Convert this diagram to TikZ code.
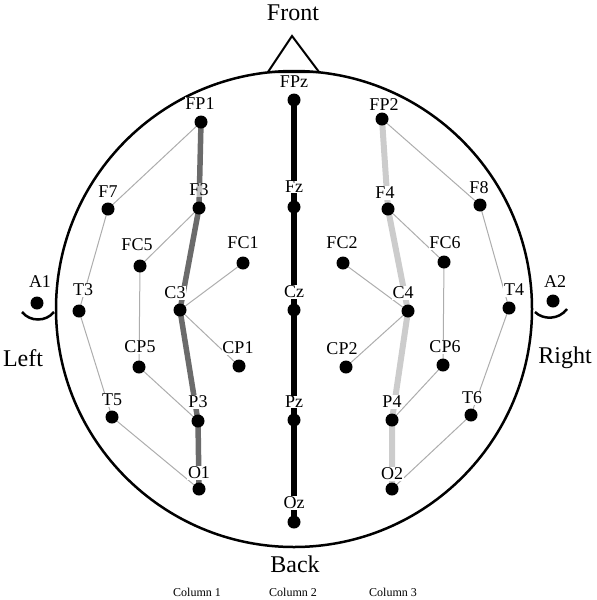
\documentclass[tikz,border=0pt]{standalone}
\usepackage{fontspec}
\setmainfont{Liberation Serif}
\begin{document}
\begin{tikzpicture}[x=1pt,y=-1pt,
  dot/.style={circle,fill=black,minimum size=13pt,inner sep=0pt},
  lab/.style={fill=white,inner sep=0.6pt,font=\fontsize{18}{18}\selectfont},
  big/.style={font=\fontsize{24}{24}\selectfont,inner sep=0pt},
  colt/.style={font=\fontsize{12}{12}\selectfont,inner sep=0pt},
  thin/.style={draw=black!32,line width=1pt},
  colA/.style={draw=black!58,line width=5.5pt},
  colB/.style={draw=black,line width=6.5pt},
  colC/.style={draw=black!20,line width=6pt},
  outline/.style={draw=black,line width=2.5pt}]
\useasboundingbox (0,0) rectangle (597,600);
% head
\draw[outline] (294,309) circle[radius=238];
\draw[draw=black,line width=2pt,line join=miter] (268,72) -- (292,36) -- (319,72) -- cycle;
\draw[outline] (22,312) .. controls (30,322) and (46,322) .. (54,312);
\draw[outline] (535,312) .. controls (543,320) and (559,320) .. (567,309);
% coordinates
\coordinate (FPz) at (294,100); \coordinate (Fz) at (294,207); \coordinate (Cz) at (294,310);
\coordinate (Pz) at (294,420); \coordinate (Oz) at (294,522);
\coordinate (FP1) at (201,122); \coordinate (F3) at (199,208); \coordinate (C3) at (180,310);
\coordinate (P3) at (198,421); \coordinate (O1) at (199,489);
\coordinate (F7) at (108,209); \coordinate (FC5) at (140,266); \coordinate (T3) at (79,311);
\coordinate (CP5) at (139,367); \coordinate (T5) at (112,417); \coordinate (FC1) at (243,263);
\coordinate (CP1) at (239,366);
\coordinate (FP2) at (382,119); \coordinate (F4) at (388,209); \coordinate (C4) at (408,311);
\coordinate (P4) at (392,420); \coordinate (O2) at (392,489);
\coordinate (F8) at (480,205); \coordinate (FC6) at (444,262); \coordinate (T4) at (509,308);
\coordinate (CP6) at (443,365); \coordinate (T6) at (471,415); \coordinate (FC2) at (343,263);
\coordinate (CP2) at (346,367);
\coordinate (A1) at (37,303); \coordinate (A2) at (553,301);
% thin connections
\draw[thin] (FP1) -- (F7) -- (T3) -- (T5) -- (O1);
\draw[thin] (F3) -- (FC5) -- (CP5) -- (P3);
\draw[thin] (FC1) -- (C3) -- (CP1);
\draw[thin] (FP2) -- (F8) -- (T4) -- (T6) -- (O2);
\draw[thin] (F4) -- (FC6) -- (CP6) -- (P4);
\draw[thin] (FC2) -- (C4) -- (CP2);
% thick columns
\draw[colA] (FP1) -- (F3) -- (C3) -- (P3) -- (O1);
\draw[colB] (FPz) -- (Oz);
\draw[colC] (FP2) -- (F4) -- (C4) -- (P4) -- (O2);
% dots
\foreach \n in {FPz,Fz,Cz,Pz,Oz,FP1,F3,C3,P3,O1,F7,FC5,T3,CP5,T5,FC1,CP1,FP2,F4,C4,P4,O2,F8,FC6,T4,CP6,T6,FC2,CP2,A1,A2}
  \node[dot] (\n d) at (\n) {};
% labels
\node[lab] (FPzl) at (294,82) {FPz};
\node[lab] (Fzl) at (294,187) {Fz};
\node[lab] (Czl) at (294,292) {Cz};
\node[lab] (Pzl) at (294,402) {Pz};
\node[lab] (Ozl) at (294,503) {Oz};
\node[lab] (FP1l) at (200,104) {FP1};
\node[lab,fill opacity=0.6,text opacity=1] (F3l) at (199,190) {F3};
\node[lab] (C3l) at (175,293) {C3};
\node[lab] (P3l) at (198,402) {P3};
\node[lab] (O1l) at (199,473) {O1};
\node[lab] (F7l) at (108,192) {F7};
\node[lab] (FC5l) at (137,245) {FC5};
\node[lab] (T3l) at (83,290) {T3};
\node[lab] (CP5l) at (140,347) {CP5};
\node[lab] (T5l) at (112,400) {T5};
\node[lab] (FC1l) at (243,243) {FC1};
\node[lab] (CP1l) at (238,348) {CP1};
\node[lab] (FP2l) at (384,105) {FP2};
\node[lab] (F4l) at (385,193) {F4};
\node[lab] (C4l) at (403,293) {C4};
\node[lab] (P4l) at (392,402) {P4};
\node[lab] (O2l) at (392,474) {O2};
\node[lab] (F8l) at (479,188) {F8};
\node[lab] (FC6l) at (445,243) {FC6};
\node[lab] (T4l) at (514,290) {T4};
\node[lab] (CP6l) at (445,347) {CP6};
\node[lab] (T6l) at (472,398) {T6};
\node[lab] (FC2l) at (342,243) {FC2};
\node[lab] (CP2l) at (342,349) {CP2};
\node[lab] (A1l) at (40,282) {A1};
\node[lab] (A2l) at (555,282) {A2};
% titles
\node[big] (front) at (293,13) {Front};
\node[big] (back) at (295,564) {Back};
\node[big] (left) at (23,358) {Left};
\node[big] (right) at (565,358) {Right};
\node[colt] (c1) at (197,592) {Column 1};
\node[colt] (c2) at (293,592) {Column 2};
\node[colt] (c3) at (393,592) {Column 3};
\end{tikzpicture}
\end{document}
